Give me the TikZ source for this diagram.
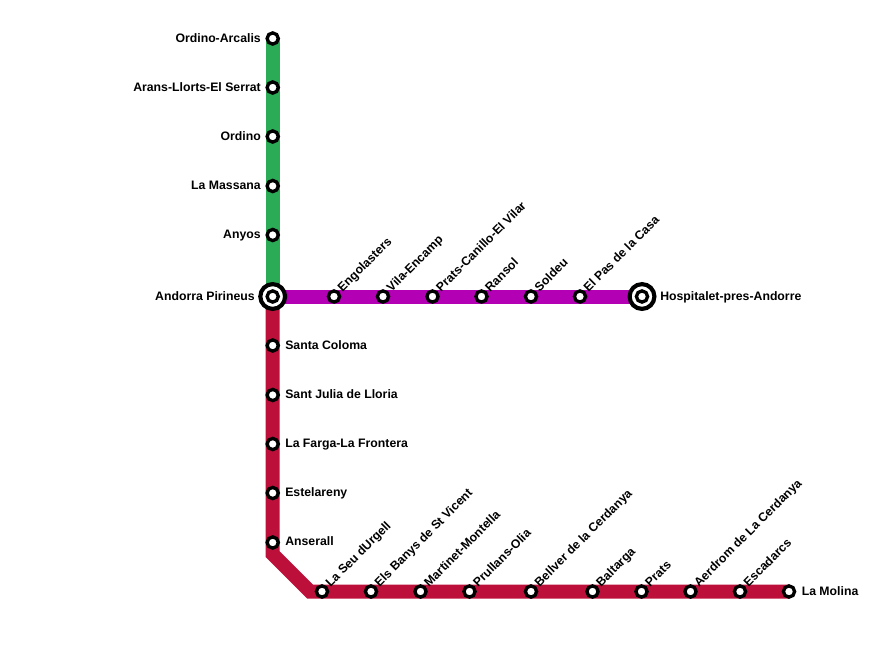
\documentclass[tikz,border=0pt]{standalone}
\usepackage{fontspec}
\setmainfont{Liberation Sans}
\definecolor{lgreen}{HTML}{2BAB56}
\definecolor{lpurple}{HTML}{B400B4}
\definecolor{lred}{HTML}{BC103A}
\tikzset{
  st/.style={circle,draw=black,fill=white,line width=2.5pt,minimum size=8.4pt,inner sep=0pt},
  bigst/.style={circle,draw=black,fill=white,line width=3.1pt,minimum size=18.6pt,inner sep=0pt},
  lineseg/.style={line width=10.5pt,line join=miter,line cap=butt},
  lab/.style={font=\bfseries\fontsize{9.2}{10}\selectfont,text=black,inner sep=0pt},
  labl/.style={lab,anchor=base east},
  labr/.style={lab,anchor=base west},
  labd/.style={lab,anchor=base west,rotate=45}
}
\begin{document}
\begin{tikzpicture}[x=0.75pt,y=-0.75pt]
\useasboundingbox (0,0) rectangle (877,657);
\coordinate (bend1) at (272.5,554);
\coordinate (bend2) at (310,591.5);
\foreach \n/\x/\y in {oa/272.7/38.5,al/272.7/87.5,or/272.7/136.5,lm/272.7/186,an/272.7/235,ap/272.7/296.5,
  sc/272.7/345.5,sj/272.7/395,lf/272.7/444,es/272.7/493,ans/272.7/542.5,
  en/334/296.5,ve/383/296.5,pc/432.5/296.5,ra/481.5/296.5,so/531/296.5,ep/580/296.5,hp/642/296.5,
  su/322/591.5,eb/371/591.5,mm/420.5/591.5,po/469.5/591.5,bc/531/591.5,ba/592.5/591.5,pr/641.5/591.5,ae/690.5/591.5,ec/740/591.5,mo/789/591.5}
  {\coordinate (c\n) at (\x,\y);}
\draw[lineseg,lgreen] (coa) -- (cap);
\draw[lineseg,lpurple] (cap) -- (chp);
\draw[lineseg,lred] (cap) -- (bend1) -- (bend2) -- (cmo);
\node[bigst] (napb) at (cap) {};
\node[bigst] (nhpb) at (chp) {};
\foreach \n in {oa,al,or,lm,an,ap,sc,sj,lf,es,ans,en,ve,pc,ra,so,ep,hp,su,eb,mm,po,bc,ba,pr,ae,ec,mo}
  {\node[st] (n\n) at (c\n) {};}
% left labels
\node[labl] (t1) at (261,42.5) {Ordino-Arcalis};
\node[labl] (t2) at (261,91.5) {Arans-Llorts-El Serrat};
\node[labl] (t3) at (261,140.5) {Ordino};
\node[labl] (t4) at (261,189.5) {La Massana};
\node[labl] (t5) at (261,238.5) {Anyos};
\node[labl] (t6) at (255,300.5) {Andorra Pirineus};
% right labels
\node[labr] (t7) at (285,349.5) {Santa Coloma};
\node[labr] (t8) at (285,398.5) {Sant Julia de Lloria};
\node[labr] (t9) at (285,447.5) {La Farga-La Frontera};
\node[labr] (t10) at (285,496.5) {Estelareny};
\node[labr] (t11) at (285,545.5) {Anserall};
\node[labr] (t12) at (660,300.5) {Hospitalet-pres-Andorre};
\node[labr] (t13) at (801.5,595) {La Molina};
% diagonal labels
\node[labd] (d1) at (342.5,292.5) {Engolasters};
\node[labd] (d2) at (391.5,292.5) {Vila-Encamp};
\node[labd] (d3) at (441,292.5) {Prats-Canillo-El Vilar};
\node[labd] (d4) at (490,292.5) {Ransol};
\node[labd] (d5) at (539.5,292.5) {Soldeu};
\node[labd] (d6) at (588.5,292.5) {El Pas de la Casa};
\node[labd] (d7) at (330.5,587.5) {La Seu dUrgell};
\node[labd] (d8) at (379.5,587.5) {Els Banys de St Vicent};
\node[labd] (d9) at (429,587.5) {Martinet-Montella};
\node[labd] (d10) at (478,587.5) {Prullans-Olia};
\node[labd] (d11) at (539.5,587.5) {Bellver de la Cerdanya};
\node[labd] (d12) at (601,587.5) {Baltarga};
\node[labd] (d13) at (650,587.5) {Prats};
\node[labd] (d14) at (699,587.5) {Aerdrom de La Cerdanya};
\node[labd] (d15) at (748.5,587.5) {Escadarcs};
\end{tikzpicture}
\end{document}
